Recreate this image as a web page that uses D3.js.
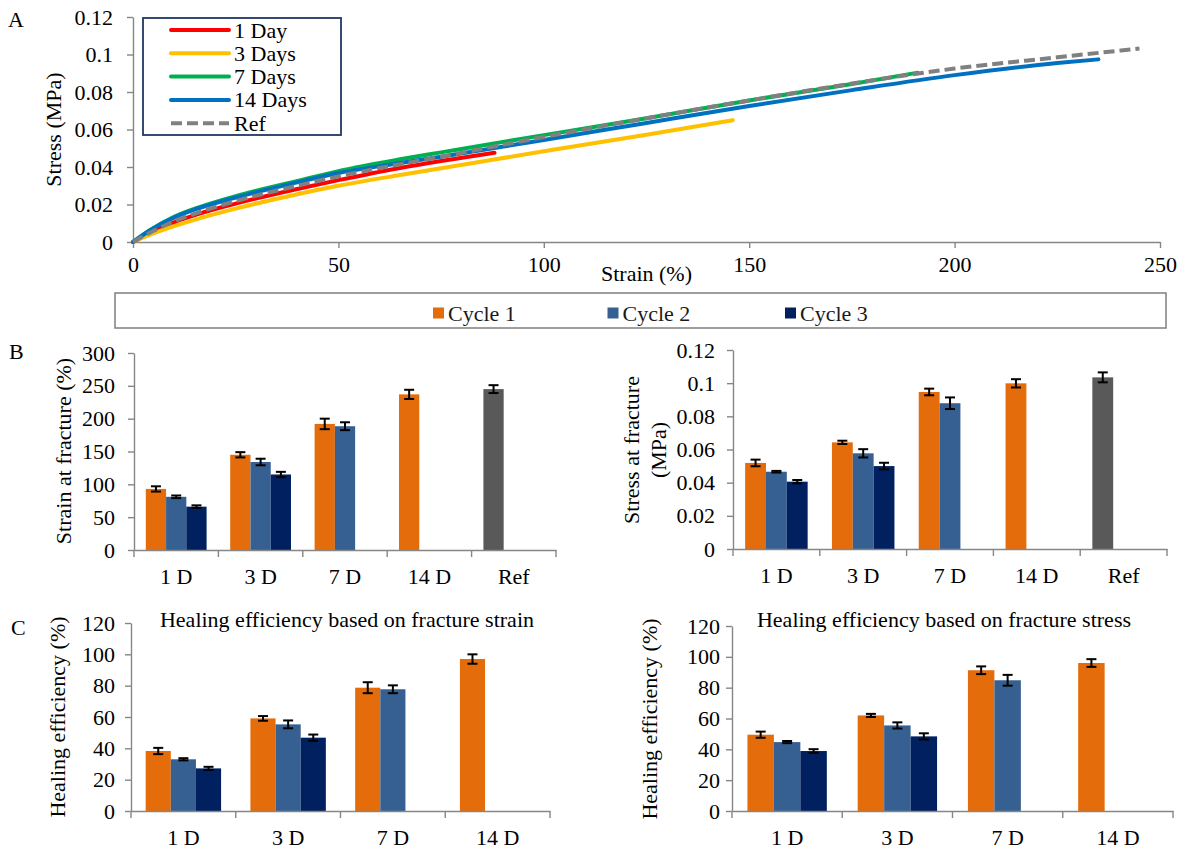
<!DOCTYPE html>
<html>
<head>
<meta charset="utf-8">
<script src="https://cdn.jsdelivr.net/npm/d3@7"></script>
<style>
  body { margin: 0; background: #fff; }
  svg { display: block; }
  text { font-family: "Liberation Serif", "Times New Roman", serif; }
</style>
</head>
<body>
<svg id="fig" width="1184" height="852"></svg>
<script>
// ---------- data ----------
// panel A, stress-strain curves (strain %, stress MPa)
const day1Strain = [0, 4, 10, 16, 25, 40, 50, 65, 75, 88]
const day1Stress = [0, 0.0048, 0.0105, 0.015, 0.0205, 0.0283, 0.033, 0.0395, 0.0432, 0.0476]
const day3Strain = [0, 4, 10, 16, 25, 40, 50, 65, 75, 100, 125, 146]
const day3Stress = [0, 0.0038, 0.0085, 0.0125, 0.0178, 0.0255, 0.030, 0.0357, 0.0393, 0.0484, 0.0572, 0.065]
const day7Strain = [0, 4, 10, 16, 25, 40, 50, 65, 75, 100, 125, 150, 175, 191]
const day7Stress = [0, 0.0062, 0.0135, 0.0185, 0.0245, 0.0325, 0.0378, 0.0441, 0.0478, 0.057, 0.066, 0.0755, 0.0843, 0.0903]
const day14Strain = [0, 4, 10, 16, 25, 40, 50, 65, 75, 100, 125, 150, 175, 200, 225, 235]
const day14Stress = [0, 0.006, 0.013, 0.018, 0.0237, 0.0318, 0.0368, 0.0421, 0.0455, 0.0544, 0.0635, 0.0725, 0.081, 0.089, 0.0955, 0.0974]
const refStrain = [0, 4, 10, 16, 25, 40, 50, 65, 75, 100, 125, 150, 175, 200, 225, 245]
const refStress = [0, 0.0048, 0.011, 0.0158, 0.0218, 0.030, 0.035, 0.0415, 0.0455, 0.056, 0.066, 0.0755, 0.0845, 0.0925, 0.0985, 0.1032]
const curveNames = ["1 Day", "3 Days", "7 Days", "14 Days", "Ref"]

// panel B
const catsB = ["1 D", "3 D", "7 D", "14 D", "Ref"]
const strainC1 = [93, 145, 192, 237, 245]   // last one is the Ref bar
const strainC1Err = [4, 4, 8, 7, 6]
const strainC2 = [81, 134, 188.5, null, null]
const strainC2Err = [2, 5, 6, null, null]
const strainC3 = [66, 115, null, null, null]
const strainC3Err = [2, 4, null, null, null]

const stressC1 = [0.0519, 0.0643, 0.0947, 0.0999, 0.1035]
const stressC1Err = [0.002, 0.001, 0.002, 0.0025, 0.003]
const stressC2 = [0.0466, 0.0577, 0.0879, null, null]
const stressC2Err = [0.0005, 0.0025, 0.0035, null, null]
const stressC3 = [0.0406, 0.050, null, null, null]
const stressC3Err = [0.001, 0.002, null, null, null]

// panel C
const catsC = ["1 D", "3 D", "7 D", "14 D"]
const heStrainC1 = [38.3, 59.1, 78.7, 97]
const heStrainC1Err = [2, 1.5, 3.5, 3]
const heStrainC2 = [33, 55.3, 77.7, null]
const heStrainC2Err = [0.7, 2.5, 2.5, null]
const heStrainC3 = [27.2, 46.8, null, null]
const heStrainC3Err = [1, 2, null, null]

const heStressC1 = [49.5, 62, 91.3, 96]
const heStressC1Err = [2, 1, 2.5, 2.5]
const heStressC2 = [44.7, 55.5, 84.8, null]
const heStressC2Err = [0.7, 2, 3.5, null]
const heStressC3 = [38.9, 48.4, null, null]
const heStressC3Err = [1.2, 2, null, null]

const cycleNames = ["Cycle 1", "Cycle 2", "Cycle 3"]

// ---------- styles ----------
const axisColor = "#868686"
const lineColors = ["#ff0000", "#ffc000", "#00b050", "#0070c0", "#808080"]
const cycleColors = ["#e46c0a", "#376092", "#002060"]
const refColor = "#595959"
const SERIF = '"Liberation Serif", "Times New Roman", serif'
const FONT = 22

const svg = d3.select("#fig")

function styleAxis(g) {
  g.attr("font-family", SERIF).attr("font-size", FONT)
  g.select(".domain").attr("stroke", axisColor).attr("stroke-width", 1.4)
  g.selectAll(".tick line").attr("stroke", axisColor).attr("stroke-width", 1.4)
  g.selectAll(".tick text").attr("fill", "#000")
}

function fmtDec(d) {
  return String(+d.toFixed(2))
}

function rotLabel(cx, cy, txt, size) {
  svg.append("text")
    .attr("transform", `translate(${cx},${cy}) rotate(-90)`)
    .attr("text-anchor", "middle")
    .attr("dominant-baseline", "central")
    .attr("font-size", size)
    .text(txt)
}

function panelLetter(x, y, t) {
  svg.append("text").attr("x", x).attr("y", y).attr("font-size", FONT).text(t)
}

// ---------- panel A ----------
const xA = d3.scaleLinear().domain([0, 250]).range([133, 1160])
const yA = d3.scaleLinear().domain([0, 0.12]).range([242, 17])

svg.append("g").attr("transform", "translate(0,242)")
  .call(d3.axisBottom(xA).tickValues([0, 50, 100, 150, 200, 250]).tickSize(6).tickSizeOuter(0).tickPadding(8))
  .call(styleAxis)
svg.append("g").attr("transform", "translate(133,0)")
  .call(d3.axisLeft(yA).tickValues(d3.range(0, 0.1201, 0.02)).tickFormat(fmtDec).tickSize(6).tickSizeOuter(0).tickPadding(14))
  .call(styleAxis)

const curves = [
  [day1Strain, day1Stress],
  [day3Strain, day3Stress],
  [day7Strain, day7Stress],
  [day14Strain, day14Stress],
  [refStrain, refStress]
]
const line = d3.line().x(d => xA(d[0])).y(d => yA(d[1])).curve(d3.curveMonotoneX)
curves.forEach((c, i) => {
  const pts = c[0].map((s, j) => [s, c[1][j]])
  svg.append("path")
    .attr("d", line(pts))
    .attr("fill", "none")
    .attr("stroke", lineColors[i])
    .attr("stroke-width", 4)
    .attr("stroke-linecap", i == 4 ? "butt" : "round")
    .attr("stroke-dasharray", i == 4 ? "11,5" : null)
})

svg.append("text").attr("x", xA(125)).attr("y", 281).attr("text-anchor", "middle")
  .attr("font-size", FONT).text("Strain (%)")
rotLabel(53, 129.5, "Stress (MPa)", 22)
panelLetter(8, 27, "A")

// legend A
const legA = svg.append("g")
legA.append("rect").attr("x", 143).attr("y", 18).attr("width", 198).attr("height", 117)
  .attr("fill", "#fff").attr("stroke", "#203864").attr("stroke-width", 1.8)
curveNames.forEach((n, i) => {
  const yy = 30 + i * 23.3
  legA.append("line").attr("x1", 171).attr("x2", 229).attr("y1", yy).attr("y2", yy)
    .attr("stroke", lineColors[i]).attr("stroke-width", 4)
    .attr("stroke-linecap", i == 4 ? "butt" : "round")
    .attr("stroke-dasharray", i == 4 ? "11,5" : null)
  legA.append("text").attr("x", 234).attr("y", yy).attr("dominant-baseline", "central")
    .attr("font-size", 22).text(n)
})

// ---------- shared legend for bars ----------
svg.append("rect").attr("x", 115).attr("y", 293).attr("width", 1051).attr("height", 35)
  .attr("fill", "none").attr("stroke", "#7f7f7f").attr("stroke-width", 1.5)
const legX = [433, 607.5, 785]
cycleNames.forEach((n, i) => {
  svg.append("rect").attr("x", legX[i]).attr("y", 307.5).attr("width", 11).attr("height", 11)
    .attr("fill", cycleColors[i])
  svg.append("text").attr("x", legX[i] + 15).attr("y", 313).attr("dominant-baseline", "central")
    .attr("font-size", FONT).attr("fill", "#1a1a1a").text(n)
})

// ---------- bar panels ----------
function barChart(cfg) {
  const x = d3.scaleBand().domain(cfg.cats).range([cfg.x0, cfg.x1])
  const xs = d3.scaleBand().domain([0, 1, 2]).range([0, x.bandwidth()]).paddingOuter(0.583)
  const y = d3.scaleLinear().domain([0, cfg.yMax]).range([cfg.y0, cfg.y1])
  const g = svg.append("g")

  cfg.series.forEach((s, i) => {
    const pts = cfg.cats.map((c, j) => ({ c: c, v: s.vals[j], e: s.errs[j] })).filter(d => d.v != null)
    g.selectAll(null).data(pts).enter().append("rect")
      .attr("x", d => x(d.c) + xs(i))
      .attr("width", xs.bandwidth())
      .attr("y", d => y(d.v))
      .attr("height", d => y(0) - y(d.v))
      .attr("fill", d => d.c == "Ref" ? refColor : cycleColors[i])
    const cx = d => x(d.c) + xs(i) + xs.bandwidth() / 2
    const eb = g.selectAll(null).data(pts).enter().append("g")
      .attr("stroke", "#000").attr("stroke-width", 2)
    eb.append("line").attr("x1", cx).attr("x2", cx).attr("y1", d => y(d.v - d.e)).attr("y2", d => y(d.v + d.e))
    eb.append("line").attr("x1", d => cx(d) - 5).attr("x2", d => cx(d) + 5).attr("y1", d => y(d.v - d.e)).attr("y2", d => y(d.v - d.e))
    eb.append("line").attr("x1", d => cx(d) - 5).attr("x2", d => cx(d) + 5).attr("y1", d => y(d.v + d.e)).attr("y2", d => y(d.v + d.e))
  })

  // x axis, labels centred, small ticks at category edges
  svg.append("g").attr("transform", `translate(0,${cfg.y0})`)
    .call(d3.axisBottom(x).tickSize(0).tickSizeOuter(0).tickPadding(18))
    .call(styleAxis)
  const edges = cfg.cats.map(c => x(c)).concat([cfg.x1])
  svg.append("g").selectAll("line").data(edges).enter().append("line")
    .attr("x1", d => d).attr("x2", d => d).attr("y1", cfg.y0).attr("y2", cfg.y0 + 7)
    .attr("stroke", axisColor).attr("stroke-width", 1.4)

  svg.append("g").attr("transform", `translate(${cfg.x0},0)`)
    .call(d3.axisLeft(y).tickValues(d3.range(0, cfg.yMax + cfg.yStep / 2, cfg.yStep))
      .tickFormat(cfg.fmt).tickSize(6).tickSizeOuter(0).tickPadding(cfg.pad))
    .call(styleAxis)

  if (cfg.title) {
    svg.append("text").attr("x", cfg.titleX).attr("y", 627).attr("text-anchor", "middle")
      .attr("font-size", 22).text(cfg.title)
  }
}

function mkSeries(v1, e1, v2, e2, v3, e3) {
  return [{ vals: v1, errs: e1 }, { vals: v2, errs: e2 }, { vals: v3, errs: e3 }]
}

barChart({
  cats: catsB, x0: 134, x1: 556, y0: 550, y1: 353, yMax: 300, yStep: 50,
  fmt: d => d, pad: 13,
  series: mkSeries(strainC1, strainC1Err, strainC2, strainC2Err, strainC3, strainC3Err)
})
rotLabel(63, 451, "Strain at fracture (%)", 22)
panelLetter(9, 359, "B")

barChart({
  cats: catsB, x0: 733, x1: 1167, y0: 549, y1: 350, yMax: 0.12, yStep: 0.02,
  fmt: fmtDec, pad: 12,
  series: mkSeries(stressC1, stressC1Err, stressC2, stressC2Err, stressC3, stressC3Err)
})
rotLabel(631, 450, "Stress at fracture", 22)
rotLabel(658, 450, "(MPa)", 22)

barChart({
  cats: catsC, x0: 131, x1: 550, y0: 811, y1: 623, yMax: 120, yStep: 20,
  fmt: d => d, pad: 10,
  title: "Healing efficiency based on fracture strain", titleX: 347,
  series: mkSeries(heStrainC1, heStrainC1Err, heStrainC2, heStrainC2Err, heStrainC3, heStrainC3Err)
})
rotLabel(57, 717, "Healing efficiency (%)", 22)
panelLetter(11, 635, "C")

barChart({
  cats: catsC, x0: 732, x1: 1173, y0: 811, y1: 626, yMax: 120, yStep: 20,
  fmt: d => d, pad: 6,
  title: "Healing efficiency based on fracture stress", titleX: 944,
  series: mkSeries(heStressC1, heStressC1Err, heStressC2, heStressC2Err, heStressC3, heStressC3Err)
})
rotLabel(649, 719, "Healing efficiency (%)", 22)
</script>
</body>
</html>
